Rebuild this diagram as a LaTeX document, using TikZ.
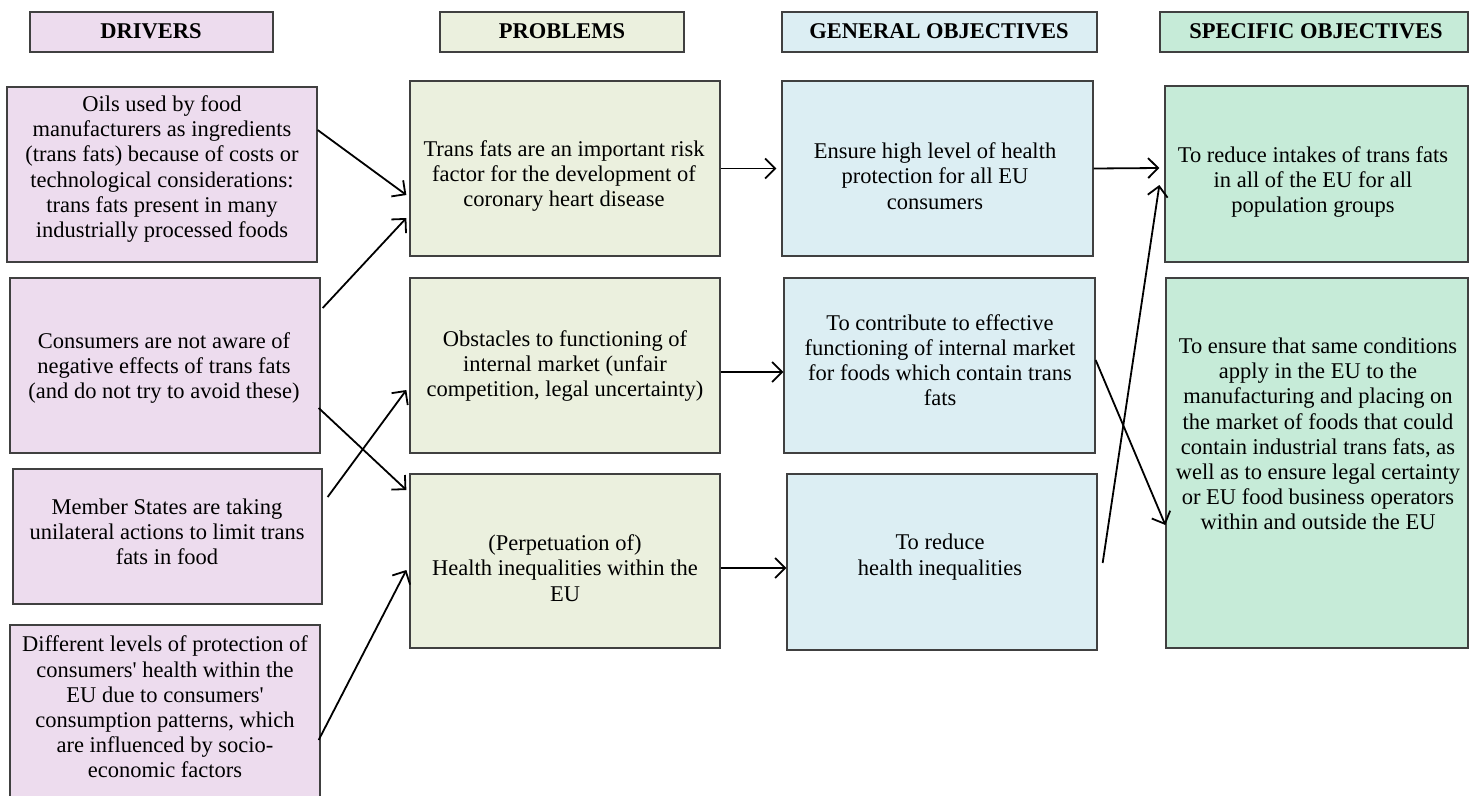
\documentclass[tikz,border=0pt]{standalone}
\usepackage{fontspec}
\setmainfont{Liberation Serif}
\usetikzlibrary{arrows.meta}
\definecolor{drv}{HTML}{EDDCEE}
\definecolor{prb}{HTML}{EBF0DE}
\definecolor{gen}{HTML}{DCEEF3}
\definecolor{spc}{HTML}{C6EBD8}
\newcommand{\apo}{\textquotesingle}
\begin{document}
\begin{tikzpicture}[x=1pt,y=-1pt,
  box/.style={draw=black!75,line width=1.3pt,inner sep=0pt},
  txt/.style={align=center,font=\fontsize{22.5}{25.2}\selectfont,inner sep=0pt},
  hdr/.style={font=\fontsize{22.5}{25}\selectfont\bfseries,inner sep=0pt},
  conn/.style={line width=1.8pt,-{Straight Barb[length=10pt,width=20pt,line width=1.8pt]}}]
\useasboundingbox (0,0) rectangle (1469,795);
\newcommand{\bx}[6]{\node[box,fill=#6,minimum width=#4-#2,minimum height=#5-#3] (#1) at ({(#2+#4)/2},{(#3+#5)/2}) {};}
% headers
\bx{hd}{30}{12}{273}{52}{drv}
\bx{hp}{440}{12}{684}{52}{prb}
\bx{hg}{782}{12}{1097}{52}{gen}
\bx{hs}{1160}{12}{1468}{52}{spc}
\node[hdr] (thd) at (151,31) {DRIVERS};
\node[hdr] (thp) at (562,31) {PROBLEMS};
\node[hdr] (thg) at (939,31) {GENERAL OBJECTIVES};
\node[hdr] (ths) at (1316,31) {SPECIFIC OBJECTIVES};
% drivers
\bx{d1}{7}{87}{317}{262}{drv}
\bx{d2}{10}{278}{320}{453}{drv}
\bx{d3}{13}{469}{322}{604}{drv}
\bx{d4}{10}{625}{320}{800}{drv}
\node[txt] (td1) at (162,169) {Oils used by food\\manufacturers as ingredients\\(trans fats) because of costs or\\technological considerations:\\trans fats present in many\\industrially processed foods};
\node[txt] (td2) at (164,368) {Consumers are not aware of\\negative effects of trans fats\\(and do not try to avoid these)};
\node[txt] (td3) at (167,532) {Member States are taking\\unilateral actions to limit trans\\fats in food};
\node[txt] (td4) at (165,707) {Different levels of protection of\\consumers\apo{} health within the\\EU due to consumers\apo\\consumption patterns, which\\are influenced by socio-\\economic factors};
% problems
\bx{p1}{410}{81}{720}{256}{prb}
\bx{p2}{410}{278}{720}{453}{prb}
\bx{p3}{410}{474}{720}{648}{prb}
\node[txt] (tp1) at (564,176) {Trans fats are an important risk\\factor for the development of\\coronary heart disease};
\node[txt] (tp2) at (565,366) {Obstacles to functioning of\\internal market (unfair\\competition, legal uncertainty)};
\node[txt] (tp3) at (565,568) {(Perpetuation of)\\Health inequalities within the\\EU};
% general objectives
\bx{g1}{782}{81}{1093}{256}{gen}
\bx{g2}{784}{278}{1095}{453}{gen}
\bx{g3}{787}{474}{1097}{650}{gen}
\node[txt] (tg1) at (935,176) {Ensure high level of health\\protection for all EU\\consumers};
\node[txt] (tg2) at (940,360) {To contribute to effective\\functioning of internal market\\for foods which contain trans\\fats};
\node[txt] (tg3) at (940,557) {To reduce\\health inequalities};
% specific objectives
\bx{s1}{1165}{86}{1468}{262}{spc}
\bx{s2}{1166}{278}{1468}{648}{spc}
\node[txt] (ts1) at (1313,182) {To reduce intakes of trans fats\\in all of the EU for all\\population groups};
\node[txt] (ts2) at (1318,434) {To ensure that same conditions\\apply in the EU to the\\manufacturing and placing on\\the market of foods that could\\contain industrial trans fats, as\\well as to ensure legal certainty\\or EU food business operators\\within and outside the EU};
% connectors
\draw[conn] ([yshift=44.5pt]d1.east) -- ([xshift=-3pt,yshift=-26.5pt]p1.west);
\draw[conn] ([xshift=2pt,yshift=57.5pt]d2.east) -- ([xshift=-3pt,yshift=-49.5pt]p1.west);
\draw[conn] ([xshift=-2pt,yshift=-42.5pt]d2.east) -- ([xshift=-3pt,yshift=71pt]p3.west);
\draw[conn] ([xshift=5pt,yshift=39.5pt]d3.east) -- ([xshift=-3pt,yshift=-24.5pt]p2.west);
\draw[conn] ([xshift=-2pt,yshift=-27.5pt]d4.east) -- ([xshift=-3pt,yshift=-9pt]p3.west);
\draw[conn] (p1.east) -- ([xshift=-5pt]g1.west);
\draw[conn] ([yshift=-6.5pt]p2.east) -- ([yshift=-6.5pt]g2.west);
\draw[conn] ([yshift=-7pt]p3.east) -- ([yshift=-6pt]g3.west);
\draw[conn] (g1.east) -- ([xshift=-5pt,yshift=6pt]s1.west);
\draw[conn] ([xshift=5pt,yshift=-1pt]g3.east) -- ([xshift=-5pt,yshift=-11pt]s1.west);
\draw[conn] ([yshift=5.5pt]g2.east) -- ([yshift=-62pt]s2.west);
\end{tikzpicture}
\end{document}
